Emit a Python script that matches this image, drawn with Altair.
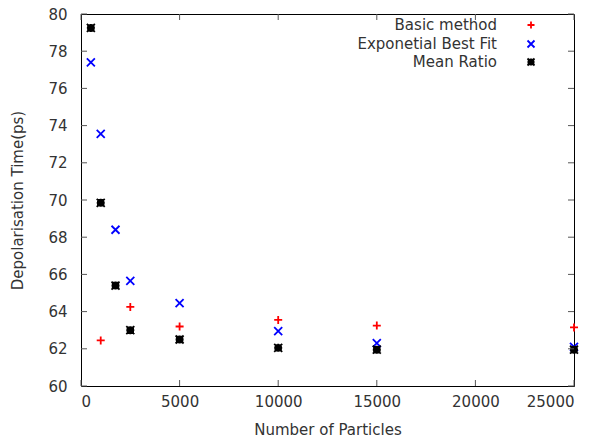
import altair as alt
import pandas as pd

# ---- data ----
basic_x = [1000, 2500, 5000, 10000, 15000, 25000]
basic_y = [62.45, 64.25, 63.2, 63.55, 63.25, 63.15]

expo_x = [500, 1000, 1750, 2500, 5000, 10000, 15000, 25000]
expo_y = [77.4, 73.55, 68.4, 65.65, 64.45, 62.95, 62.3, 62.1]

mean_x = [500, 1000, 1750, 2500, 5000, 10000, 15000, 25000]
mean_y = [79.25, 69.85, 65.4, 63.0, 62.5, 62.05, 61.95, 61.95]

series_names = ["Basic method", "Exponetial Best Fit", "Mean Ratio"]
series_colors = ["#ff0000", "#0000ff", "#000000"]
x_ticks = [0, 5000, 10000, 15000, 20000, 25000]
y_ticks = [60, 62, 64, 66, 68, 70, 72, 74, 76, 78, 80]

PLUS = "M-1,0L1,0M0,-1L0,1"
XSH = "M-1,-1L1,1M-1,1L1,-1"
STAR = "M-1,0L1,0M0,-1L0,1M-1,-1L1,1M-1,1L1,-1M-0.7,-0.7L0.7,-0.7L0.7,0.7L-0.7,0.7Z"
series_shapes = [PLUS, XSH, STAR]

rows = []
for name, xs, ys in zip(series_names, [basic_x, expo_x, mean_x], [basic_y, expo_y, mean_y]):
    for x, y in zip(xs, ys):
        rows.append({"n": x, "t": y, "series": name})
df = pd.DataFrame(rows)

W, H = 493, 372
FONT = "DejaVu Sans"
TXT = "#333333"
FS = 15

xscale = alt.Scale(domain=[0, 25000], nice=False, zero=False)
yscale = alt.Scale(domain=[60, 80], nice=False, zero=False)

xaxis = alt.Axis(values=x_ticks, format="d", labelOverlap=False, title="Number of Particles",
                 grid=False, domain=False, ticks=False, labelPadding=8, labelFontSize=FS,
                 labelFont=FONT, labelColor=TXT, titleFont=FONT, titleFontSize=FS,
                 titleColor=TXT, titleFontWeight="normal", titlePadding=13)
yaxis = alt.Axis(values=y_ticks, format="d", labelOverlap=False, title="Depolarisation Time(ps)",
                 grid=False, domain=False, ticks=False, labelPadding=14, labelFontSize=FS,
                 labelFont=FONT, labelColor=TXT, titleFont=FONT, titleFontSize=FS,
                 titleColor=TXT, titleFontWeight="normal", titlePadding=22)

points = alt.Chart(df).mark_point(filled=False, strokeWidth=1.8, opacity=1, size=64).encode(
    x=alt.X("n:Q", scale=xscale, axis=xaxis),
    y=alt.Y("t:Q", scale=yscale, axis=yaxis),
    color=alt.Color("series:N", scale=alt.Scale(domain=series_names, range=series_colors), legend=None),
    shape=alt.Shape("series:N", scale=alt.Scale(domain=series_names, range=series_shapes), legend=None),
)

xt = pd.DataFrame({"v": x_ticks})
yt = pd.DataFrame({"v": y_ticks})
tick_color = "#555555"
xb = alt.Chart(xt).mark_rule(color=tick_color, strokeWidth=1).encode(
    x=alt.X("v:Q", scale=xscale, axis=xaxis), y=alt.value(H), y2=alt.value(H - 6))
xtop = alt.Chart(xt).mark_rule(color=tick_color, strokeWidth=1).encode(
    x=alt.X("v:Q", scale=xscale, axis=xaxis), y=alt.value(0), y2=alt.value(6))
yl = alt.Chart(yt).mark_rule(color=tick_color, strokeWidth=1).encode(
    y=alt.Y("v:Q", scale=yscale, axis=yaxis), x=alt.value(0), x2=alt.value(6))
yr = alt.Chart(yt).mark_rule(color=tick_color, strokeWidth=1).encode(
    y=alt.Y("v:Q", scale=yscale, axis=yaxis), x=alt.value(W), x2=alt.value(W - 6))

leg_y = [11, 30, 48]
leg_text_layers = []
leg_sym_layers = []
for name, ly, col, shp in zip(series_names, leg_y, series_colors, series_shapes):
    d = pd.DataFrame({"label": [name]})
    leg_text_layers.append(
        alt.Chart(d).mark_text(align="right", baseline="middle", font=FONT, fontSize=FS, color=TXT).encode(
            x=alt.value(416), y=alt.value(ly), text="label:N"))
    leg_sym_layers.append(
        alt.Chart(d).mark_point(filled=False, strokeWidth=1.8, opacity=1, size=49, shape=shp, color=col).encode(
            x=alt.value(450), y=alt.value(ly)))

chart = alt.layer(points, xb, xtop, yl, yr, *leg_text_layers, *leg_sym_layers).properties(
    width=W, height=H,
    autosize=alt.AutoSizeParams(type="none"),
    padding={"left": 81, "top": 14, "right": 25, "bottom": 56},
    background="white",
).configure_view(stroke="black", strokeWidth=1)

chart.save("out.html", embed_options={"renderer": "svg", "actions": False})
